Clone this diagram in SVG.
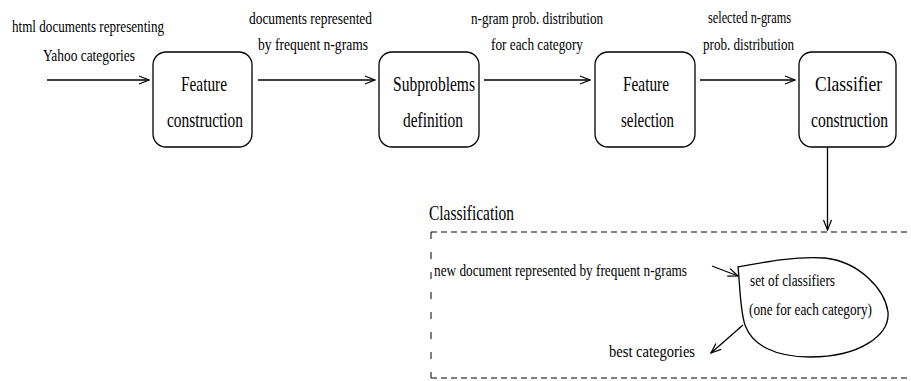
<svg xmlns="http://www.w3.org/2000/svg" width="911" height="381" viewBox="0 0 911 381" font-family="'Liberation Serif', 'DejaVu Serif', serif">
<style>
text{font-family:"Liberation Serif","DejaVu Serif",serif;fill:#000}
.lbl{font-size:17px}
.box{font-size:22px}
.node rect{fill:#fff;stroke:#000;stroke-width:1.3}
.conn{stroke:#000;stroke-width:1.3;fill:none}
.dash{stroke:#000;stroke-width:1;fill:none}
</style>
<defs>
<marker id="ah" markerUnits="userSpaceOnUse" markerWidth="14" markerHeight="12" viewBox="-11 -6 13 12" refX="0" refY="0" orient="auto">
<path d="M-10,-4 L0,0 L-10,4" fill="none" stroke="#000" stroke-width="1.2"/>
</marker>
</defs>
<rect width="911" height="381" fill="#fff"/>

<g id="node-feature-construction" class="node">
<rect x="153" y="52" width="99" height="95" rx="13"/>
<text class="box" x="204" y="91" text-anchor="middle" textLength="46" lengthAdjust="spacingAndGlyphs">Feature</text>
<text class="box" x="205" y="127" text-anchor="middle" textLength="76" lengthAdjust="spacingAndGlyphs">construction</text>
</g>
<g id="node-subproblems-definition" class="node">
<rect x="379" y="52" width="100" height="95" rx="13"/>
<text class="box" x="434" y="91" text-anchor="middle" textLength="82" lengthAdjust="spacingAndGlyphs">Subproblems</text>
<text class="box" x="433" y="127" text-anchor="middle" textLength="60" lengthAdjust="spacingAndGlyphs">definition</text>
</g>
<g id="node-feature-selection" class="node">
<rect x="595" y="52" width="100" height="95" rx="13"/>
<text class="box" x="646" y="91" text-anchor="middle" textLength="46" lengthAdjust="spacingAndGlyphs">Feature</text>
<text class="box" x="647.5" y="127" text-anchor="middle" textLength="53" lengthAdjust="spacingAndGlyphs">selection</text>
</g>
<g id="node-classifier-construction" class="node">
<rect x="799" y="52" width="97" height="95" rx="13"/>
<text class="box" x="848.5" y="91" text-anchor="middle" textLength="67" lengthAdjust="spacingAndGlyphs">Classifier</text>
<text class="box" x="849.5" y="127" text-anchor="middle" textLength="77" lengthAdjust="spacingAndGlyphs">construction</text>
</g>

<g id="classification-region">
<text x="429" y="220" style="font-size:21px" textLength="85" lengthAdjust="spacingAndGlyphs">Classification</text>
<path class="dash" d="M431,232 H911 M431,378 H911" stroke-dasharray="6 4"/>
<path class="dash" d="M431,232 V378" stroke-dasharray="7 13"/>
<text class="lbl" x="434" y="276" textLength="253" lengthAdjust="spacingAndGlyphs">new document represented by frequent n-grams</text>
<text class="lbl" x="609" y="357" textLength="86" lengthAdjust="spacingAndGlyphs">best categories</text>
</g>

<g id="node-set-of-classifiers">
<path d="M738,267 C765,262 795,256 825,258 C860,262 885,290 888,312 C890,335 860,357 810,357 C775,357 752,345 745,325 C740,310 740,285 738,267 Z" fill="none" stroke="#000" stroke-width="1.3"/>
<text class="lbl" x="750" y="286" textLength="85" lengthAdjust="spacingAndGlyphs">set of classifiers</text>
<text class="lbl" x="749" y="315" textLength="123" lengthAdjust="spacingAndGlyphs">(one for each category)</text>
</g>

<g id="connectors">
<line class="conn" x1="47" y1="80" x2="149" y2="80" marker-end="url(#ah)"/>
<line class="conn" x1="258" y1="80" x2="375" y2="80" marker-end="url(#ah)"/>
<line class="conn" x1="484" y1="80" x2="590" y2="80" marker-end="url(#ah)"/>
<line class="conn" x1="700" y1="80" x2="795" y2="80" marker-end="url(#ah)"/>
<line class="conn" x1="827.5" y1="147" x2="827.5" y2="230" marker-end="url(#ah)"/>
<line class="conn" x1="712" y1="266" x2="738" y2="276" marker-end="url(#ah)"/>
<line class="conn" x1="743" y1="325" x2="711" y2="353" marker-end="url(#ah)"/>
<text class="lbl" x="88" y="32" text-anchor="middle" textLength="152" lengthAdjust="spacingAndGlyphs">html documents representing</text>
<text class="lbl" x="89" y="61" text-anchor="middle" textLength="92" lengthAdjust="spacingAndGlyphs">Yahoo categories</text>
<text class="lbl" x="310.5" y="24" text-anchor="middle" textLength="123" lengthAdjust="spacingAndGlyphs">documents represented</text>
<text class="lbl" x="313" y="50" text-anchor="middle" textLength="110" lengthAdjust="spacingAndGlyphs">by frequent n-grams</text>
<text class="lbl" x="537" y="24" text-anchor="middle" textLength="132" lengthAdjust="spacingAndGlyphs">n-gram prob. distribution</text>
<text class="lbl" x="537" y="50" text-anchor="middle" textLength="92" lengthAdjust="spacingAndGlyphs">for each category</text>
<text class="lbl" x="749.5" y="23" text-anchor="middle" textLength="83" lengthAdjust="spacingAndGlyphs">selected n-grams</text>
<text class="lbl" x="748.5" y="50" text-anchor="middle" textLength="91" lengthAdjust="spacingAndGlyphs">prob. distribution</text>
</g>
</svg>
